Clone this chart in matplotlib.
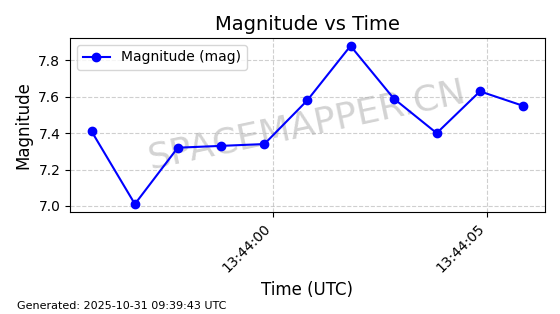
import matplotlib
matplotlib.use("Agg")
import matplotlib.pyplot as plt
import matplotlib.dates as mdates
import pandas as pd

# Observation times (UTC) and measured magnitudes
times = [
    "2025-10-31 13:43:55.77", "2025-10-31 13:43:56.78", "2025-10-31 13:43:57.78",
    "2025-10-31 13:43:58.79", "2025-10-31 13:43:59.80", "2025-10-31 13:44:00.80",
    "2025-10-31 13:44:01.81", "2025-10-31 13:44:02.82", "2025-10-31 13:44:03.82",
    "2025-10-31 13:44:04.83", "2025-10-31 13:44:05.84",
]
magnitudes = [7.41, 7.01, 7.32, 7.33, 7.34, 7.58, 7.88, 7.59, 7.40, 7.63, 7.55]

df = pd.DataFrame({"time": pd.to_datetime(times), "mag": magnitudes})

fig, ax = plt.subplots(figsize=(5.6, 3.14), dpi=100)
ax.plot(df["time"], df["mag"], "o-", color="blue", label="Magnitude (mag)")

ax.set_title("Magnitude vs Time", fontsize=14)
ax.set_xlabel("Time (UTC)", fontsize=12)
ax.set_ylabel("Magnitude", fontsize=12)
ax.grid(True, linestyle="--", alpha=0.6)
ax.legend(loc="upper left")

ax.xaxis.set_major_locator(mdates.SecondLocator(bysecond=range(0, 60, 5)))
ax.xaxis.set_major_formatter(mdates.DateFormatter("%H:%M:%S"))
plt.setp(ax.get_xticklabels(), rotation=45, ha="right")

# Watermark, kept under the data line
ax.text(0.5, 0.5, "SPACEMAPPER.CN", transform=ax.transAxes, fontsize=26,
        color="gray", alpha=0.35, ha="center", va="center", rotation=12,
        zorder=1)

fig.text(0.03, 0.015, "Generated: 2025-10-31 09:39:43 UTC", fontsize=8)

fig.subplots_adjust(left=0.125, right=0.973, top=0.879, bottom=0.325)
fig.savefig("out.png", dpi=100)
